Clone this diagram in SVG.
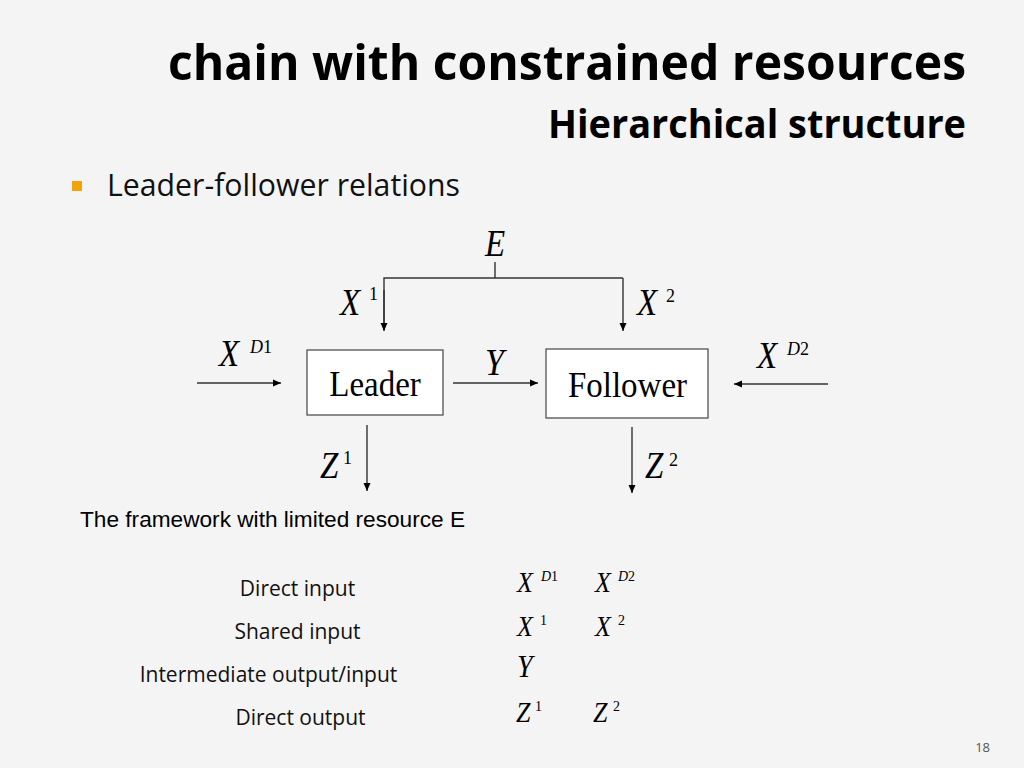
<svg xmlns="http://www.w3.org/2000/svg" width="1024" height="768" viewBox="0 0 1024 768">
<defs>
<marker id="ah" markerWidth="10" markerHeight="10" refX="9" refY="5" orient="auto" markerUnits="userSpaceOnUse">
<path d="M1,1.5 L9,5 L1,8.5 Z" fill="#000"/>
</marker>
<style>
.title{font-family:"Open Sans","Noto Sans",sans-serif;font-weight:bold;fill:#000}
.body{font-family:"Open Sans","Noto Sans",sans-serif;fill:#111}
.math{font-family:"Liberation Serif",serif;font-style:italic;fill:#000}
.up{font-style:normal}
.node rect{fill:#fff;stroke:#444;stroke-width:1.2}
.node text{font-family:"Liberation Serif",serif;font-size:33px;fill:#000;text-anchor:middle}
.conn line,.conn path{stroke:#333;stroke-width:1.4;fill:none}
.arr{marker-end:url(#ah)}
.tbl{font-family:"Open Sans","Noto Sans",sans-serif;font-size:21px;fill:#111;text-anchor:middle}
</style>
</defs>
<rect width="1024" height="768" fill="#f4f4f4"/>
<text class="title" transform="translate(966 80) scale(1 1.12)" font-size="43" text-anchor="end" textLength="798" lengthAdjust="spacingAndGlyphs">chain with constrained resources</text>
<text class="title" transform="translate(966 138) scale(1 1.12)" font-size="35" text-anchor="end" textLength="418" lengthAdjust="spacingAndGlyphs">Hierarchical structure</text>
<rect x="72" y="181" width="10" height="10" fill="#f0a30a"/>
<text class="body" transform="translate(107 196) scale(1 1.08)" font-size="28" textLength="353" lengthAdjust="spacingAndGlyphs">Leader-follower relations</text>

<g class="conn">
<line x1="495" y1="262" x2="495" y2="278" stroke="#888"/>
<path d="M384,330 L384,278 L623,278"/>
<line x1="384" y1="290" x2="384" y2="331" class="arr"/>
<line x1="623" y1="278" x2="623" y2="331" class="arr"/>
<line x1="197" y1="383" x2="281" y2="383" class="arr"/>
<line x1="453" y1="383" x2="538" y2="383" class="arr"/>
<line x1="828" y1="384" x2="734" y2="384" class="arr"/>
<line x1="367" y1="425" x2="367" y2="491" class="arr"/>
<line x1="632" y1="427" x2="632" y2="493" class="arr"/>
</g>

<g id="leader" class="node">
<rect x="307" y="350" width="136" height="65"/>
<text transform="translate(375 396) scale(1 1.1)">Leader</text>
</g>
<g id="follower" class="node">
<rect x="546" y="349" width="162" height="69"/>
<text transform="translate(627.5 397) scale(1 1.1)">Follower</text>
</g>

<g id="labels" class="math">
<text transform="translate(485 256) scale(1 1.12)" font-size="33">E</text>
<text transform="translate(340 315) scale(1 1.12)" font-size="33">X</text><text class="up" transform="translate(369 300) scale(1 1.1)" font-size="18">1</text>
<text transform="translate(637 315) scale(1 1.12)" font-size="33">X</text><text class="up" transform="translate(666 302) scale(1 1.1)" font-size="18">2</text>
<text transform="translate(219 366) scale(1 1.12)" font-size="33">X</text><text transform="translate(250 353) scale(1 1.1)" font-size="18">D<tspan class="up">1</tspan></text>
<text transform="translate(485 375) scale(1 1.12)" font-size="34">Y</text>
<text transform="translate(757 368) scale(1 1.12)" font-size="33">X</text><text transform="translate(787 355) scale(1 1.1)" font-size="18">D<tspan class="up">2</tspan></text>
<text transform="translate(320 478) scale(1 1.12)" font-size="33">Z</text><text class="up" transform="translate(343 464) scale(1 1.1)" font-size="18">1</text>
<text transform="translate(645 478) scale(1 1.12)" font-size="33">Z</text><text class="up" transform="translate(669 466) scale(1 1.1)" font-size="18">2</text>
</g>

<text x="80" y="527" font-family="Liberation Sans, sans-serif" font-size="22" fill="#000" textLength="385" lengthAdjust="spacingAndGlyphs">The framework with limited resource E</text>

<g id="table">
<text class="tbl" x="297.5" y="596">Direct input</text>
<text class="tbl" x="297.5" y="639">Shared input</text>
<text class="tbl" x="268.5" y="682">Intermediate output/input</text>
<text class="tbl" x="300.5" y="725">Direct output</text>
<g class="math">
<text transform="translate(517 592) scale(1 1.12)" font-size="26">X</text><text transform="translate(541 581) scale(1 1.1)" font-size="14">D<tspan class="up">1</tspan></text>
<text transform="translate(595 592) scale(1 1.12)" font-size="26">X</text><text transform="translate(618 581) scale(1 1.1)" font-size="14">D<tspan class="up">2</tspan></text>
<text transform="translate(517 636) scale(1 1.12)" font-size="26">X</text><text class="up" transform="translate(540 625) scale(1 1.1)" font-size="14">1</text>
<text transform="translate(595 636) scale(1 1.12)" font-size="26">X</text><text class="up" transform="translate(618 625) scale(1 1.1)" font-size="14">2</text>
<text transform="translate(517 677) scale(1 1.12)" font-size="28">Y</text>
<text transform="translate(516 722) scale(1 1.12)" font-size="26">Z</text><text class="up" transform="translate(535 711) scale(1 1.1)" font-size="14">1</text>
<text transform="translate(593 722) scale(1 1.12)" font-size="26">Z</text><text class="up" transform="translate(613 711) scale(1 1.1)" font-size="14">2</text>
</g>
</g>

<text x="990" y="752" font-family="Open Sans, sans-serif" font-size="13" fill="#555" text-anchor="end">18</text>
</svg>
